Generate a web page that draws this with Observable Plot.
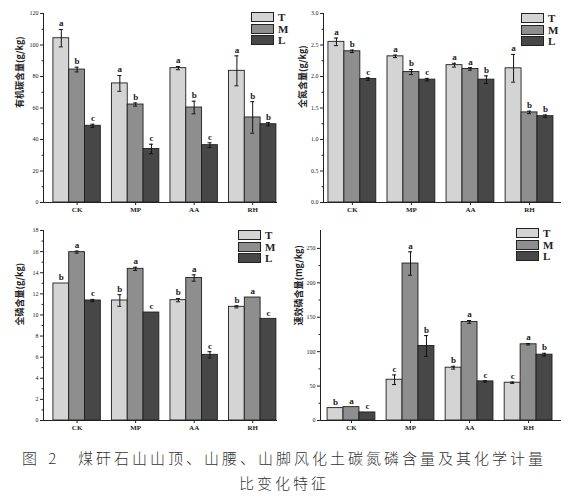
<!DOCTYPE html>
<html><head><meta charset="utf-8">
<script src="https://cdn.jsdelivr.net/npm/d3@7"></script>
<script src="https://cdn.jsdelivr.net/npm/@observablehq/plot@0.6"></script>
<style>
body{margin:0;background:#fff;}
#root{position:relative;width:568px;height:501px;background:#fff;overflow:hidden;}
.panel{position:absolute;}
.legbox{position:absolute;border:1px solid #222;box-sizing:border-box;}
.leglab{position:absolute;font-family:"Liberation Serif",serif;font-weight:bold;font-size:11px;line-height:10px;color:#222;}
.cap{position:absolute;font-family:"Noto Sans CJK SC",sans-serif;font-size:15px;line-height:18px;color:#333;white-space:nowrap;font-weight:300;}
</style></head><body><div id="root"></div>
<script>
const categories = ["CK", "MP", "AA", "RH"];
const series = ["T", "M", "L"];
const colors = ["#d4d4d4", "#8e8e8e", "#474747"];

// values per category: [T, M, L]
const socValues = [[104.3, 84.4, 48.7], [75.6, 62.2, 34.0], [85.3, 60.3, 36.4], [83.6, 54.0, 49.7]];
const socErrors = [[5.5, 1.5, 1.0], [5.0, 1.0, 3.0], [1.0, 4.0, 1.5], [9.5, 10.0, 1.0]];
const socLetters = [["a", "b", "c"], ["a", "b", "c"], ["a", "b", "c"], ["a", "b", "b"]];

const tnValues = [[2.55, 2.40, 1.96], [2.32, 2.07, 1.95], [2.18, 2.12, 1.95], [2.13, 1.43, 1.37]];
const tnErrors = [[0.06, 0.02, 0.02], [0.02, 0.04, 0.02], [0.03, 0.02, 0.06], [0.22, 0.02, 0.02]];
const tnLetters = [["a", "b", "c"], ["a", "b", "c"], ["a", "a", "b"], ["a", "b", "b"]];

const tpValues = [[12.98, 15.95, 11.37], [11.37, 14.37, 10.23], [11.40, 13.50, 6.22], [10.77, 11.65, 9.63]];
const tpErrors = [[0.0, 0.1, 0.1], [0.55, 0.15, 0.0], [0.15, 0.3, 0.3], [0.1, 0.0, 0.0]];
const tpLetters = [["b", "a", "c"], ["b", "a", "c"], ["b", "a", "c"], ["b", "a", "c"]];

const apValues = [[18.0, 19.4, 11.7], [59.2, 228.0, 108.3], [76.7, 143.2, 56.8], [54.9, 110.7, 95.6]];
const apErrors = [[0.0, 0.0, 0.0], [7.0, 17.0, 15.0], [2.0, 2.0, 1.0], [1.0, 1.0, 2.0]];
const apLetters = [["b", "a", "c"], ["c", "a", "b"], ["b", "a", "c"], ["c", "a", "b"]];

const socTicks = [0, 20, 40, 60, 80, 100, 120];
const socMinor = [10, 30, 50, 70, 90, 110];
const tnTicks = [0, 0.5, 1.0, 1.5, 2.0, 2.5, 3.0];
const tnMinor = [0.25, 0.75, 1.25, 1.75, 2.25, 2.75];
const tpTicks = [0, 2, 4, 6, 8, 10, 12, 14, 16, 18];
const tpMinor = [1, 3, 5, 7, 9, 11, 13, 15, 17];
const apTicks = [0, 50, 100, 150, 200, 250];
const apMinor = [25, 75, 125, 175, 225];

const yLabels = ["有机碳含量(g/kg)", "全氮含量(g/kg)", "全磷含量(g/kg)", "速效磷含量(mg/kg)"];
const captionNumber = "图 2";
const captionLine1 = "煤矸石山山顶、山腰、山脚风化土碳氮磷含量及其化学计量";
const captionLine2 = "比变化特征";

const panels = [
  {values: socValues, errors: socErrors, letters: socLetters, yMax: 120, ticks: socTicks, minor: socMinor, fmt: d3.format("d"), label: yLabels[0],
   left: 0, top: 0, h: 215, ml: 43, mt: 13, mb: 13, po: 0.094, align: 0.9, labDx: 23, leg: [251, 12]},
  {values: tnValues, errors: tnErrors, letters: tnLetters, yMax: 3, ticks: tnTicks, minor: tnMinor, fmt: d3.format(".1f"), label: yLabels[1],
   left: 284, top: 0, h: 215, ml: 39, mt: 13, mb: 13, po: 0.11, align: 0.38, labDx: 20, leg: [237, 13]},
  {values: tpValues, errors: tpErrors, letters: tpLetters, yMax: 18, ticks: tpTicks, minor: tpMinor, fmt: d3.format("d"), label: yLabels[2],
   left: 0, top: 215, h: 222, ml: 43, mt: 15, mb: 17, po: 0.094, align: 0.9, labDx: 23, leg: [238, 15]},
  {values: apValues, errors: apErrors, letters: apLetters, yMax: 276, ticks: apTicks, minor: apMinor, fmt: d3.format("d"), label: yLabels[3],
   left: 284, top: 215, h: 222, ml: 36, mt: 15, mb: 17, po: 0.136, align: 0.44, labDx: 21, leg: [232, 13]}
];

const root = document.getElementById("root");

panels.forEach(cfg => {
  const W = 284, mr = 7;
  const R = W - cfg.ml - mr, n = categories.length, pi = 0.19, po = cfg.po;
  const step = R / (n - pi + 2 * po), bw = step * (1 - pi), third = bw / 3;
  const off = (R - step * (n - pi)) * cfg.align;
  const rows = [];
  categories.forEach((c, i) => series.forEach((s, j) => rows.push({cat: c, ser: s, j, v: cfg.values[i][j], e: cfg.errors[i][j], letter: cfg.letters[i][j]})));
  const marks = [];
  series.forEach((s, j) => {
    const d = rows.filter(r => r.j === j);
    const c = (j - 1) * third;
    const center = bw / 2 + c;
    marks.push(Plot.barY(d, {x: "cat", y: "v", fill: colors[j], stroke: "#1e1e1e", strokeWidth: 0.9, insetLeft: j * third, insetRight: (2 - j) * third}));
    const de = d.filter(r => r.e > 0);
    marks.push(Plot.ruleX(de, {x: "cat", y1: r => r.v - r.e, y2: r => r.v + r.e, dx: c, stroke: "#111", strokeWidth: 1}));
    marks.push(Plot.tickY(de, {x: "cat", y: r => r.v + r.e, insetLeft: center - 2, insetRight: bw - center - 2, stroke: "#111", strokeWidth: 1}));
    marks.push(Plot.tickY(de, {x: "cat", y: r => r.v - r.e, insetLeft: center - 2, insetRight: bw - center - 2, stroke: "#111", strokeWidth: 1}));
    marks.push(Plot.text(d, {x: "cat", y: r => r.v + r.e, text: "letter", dx: c, dy: -6, fontSize: 9, fontWeight: "bold", fill: "#222"}));
  });
  marks.push(Plot.ruleY([0], {stroke: "#222", strokeWidth: 1}));
  marks.push(Plot.ruleX([categories[0]], {x: d => d, y1: 0, y2: cfg.yMax, dx: -(off + bw / 2), stroke: "#222", strokeWidth: 1}));
  marks.push(Plot.axisX({tickSize: 3, tickPadding: 2, fontSize: 7, fontWeight: "bold", label: null}));
  marks.push(Plot.axisY(cfg.ticks, {tickSize: 3, tickPadding: 2, tickFormat: cfg.fmt, fontSize: 6, label: null}));
  marks.push(Plot.axisY(cfg.minor, {tickSize: 1.5, tickFormat: () => "", label: null}));
  marks.push(Plot.text([cfg.label], {text: d => d, frameAnchor: "left", rotate: -90, dx: -cfg.labDx, fontSize: 9, fontWeight: "bold", fontFamily: "Noto Sans CJK SC", fill: "#222"}));

  const chart = Plot.plot({
    width: W, height: cfg.h,
    marginLeft: cfg.ml, marginRight: mr, marginTop: cfg.mt, marginBottom: cfg.mb,
    style: {fontFamily: "Liberation Serif", background: "transparent", color: "#222", overflow: "visible"},
    x: {domain: categories, paddingInner: pi, paddingOuter: po, align: cfg.align, round: false},
    y: {domain: [0, cfg.yMax]},
    marks
  });
  const div = document.createElement("div");
  div.className = "panel";
  div.style.left = cfg.left + "px";
  div.style.top = cfg.top + "px";
  div.appendChild(chart);
  series.forEach((s, j) => {
    const b = document.createElement("div");
    b.className = "legbox";
    b.style.left = cfg.leg[0] + "px";
    b.style.top = (cfg.leg[1] + j * 11.7) + "px";
    b.style.width = "23px";
    b.style.height = "10px";
    b.style.background = colors[j];
    div.appendChild(b);
    const t = document.createElement("div");
    t.className = "leglab";
    t.textContent = s;
    t.style.left = (cfg.leg[0] + 27) + "px";
    t.style.top = (cfg.leg[1] + j * 11.7) + "px";
    div.appendChild(t);
  });
  root.appendChild(div);
});

function cap(text, left, top, spacing, extra) {
  const el = document.createElement("div");
  el.className = "cap";
  el.style.left = left + "px";
  el.style.top = top + "px";
  el.style.letterSpacing = spacing + "px";
  if (extra) Object.assign(el.style, extra);
  el.textContent = text;
  root.appendChild(el);
}
cap(captionNumber, 22, 449, 4);
cap(captionLine1, 78, 449, 3);
cap(captionLine2, 0, 474, 3, {width: "568px", textAlign: "center"});
</script></body></html>
